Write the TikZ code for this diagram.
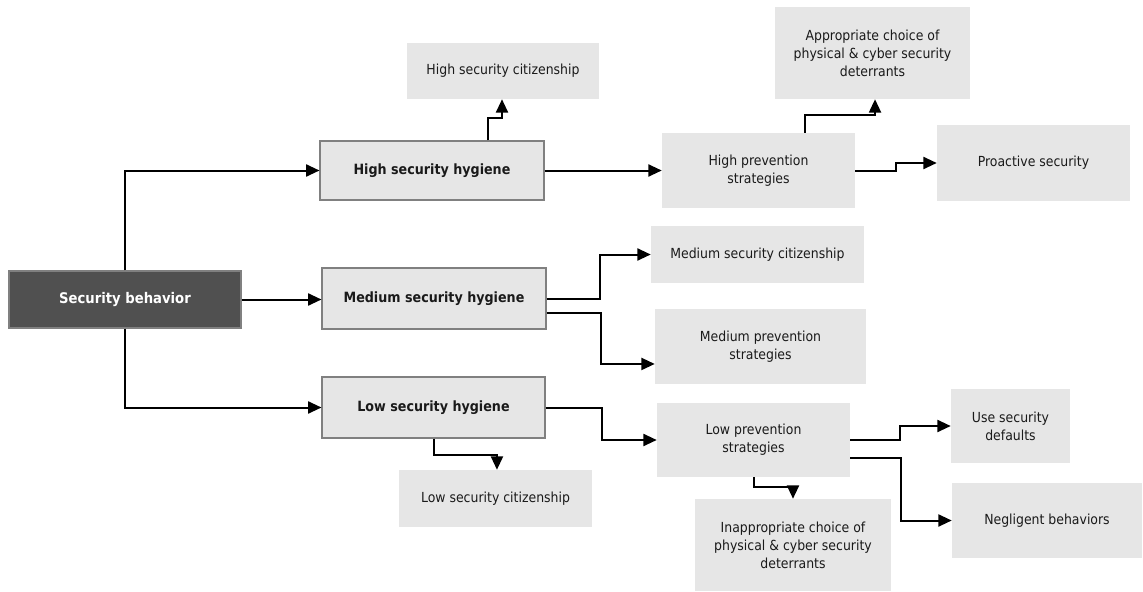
\documentclass[tikz,border=0pt]{standalone}
\usepackage{fontspec}
\setmainfont{DejaVu Sans Condensed}
\usetikzlibrary{arrows.meta}
\definecolor{boxfill}{HTML}{E6E6E6}
\definecolor{boxedge}{HTML}{808080}
\definecolor{rootfill}{HTML}{505050}
\definecolor{txt}{HTML}{1A1A1A}
\tikzset{
  base/.style={inner sep=2pt, align=center, text=txt,
    font=\fontsize{10.4}{13.5}\selectfont},
  leaf/.style={base, fill=boxfill, draw=none},
  hyg/.style={base, fill=boxfill, draw=boxedge, line width=0.8pt,
    font=\fontsize{10.6}{13.5}\selectfont\bfseries},
  root/.style={base, fill=rootfill, draw=boxedge, line width=0.8pt, text=white,
    font=\fontsize{11}{13.5}\selectfont\bfseries},
  arr/.style={line width=1.5pt, -{Triangle[length=10pt,width=9pt]}}
}
\begin{document}
\begin{tikzpicture}[x=0.75pt, y=-0.75pt]
\useasboundingbox (0,0) rectangle (1143,592);

% root
\node[root, minimum width=174pt, minimum height=42.75pt] (sb) at (125,299.5) {Security behavior};

% hygiene levels
\node[hyg, minimum width=168pt, minimum height=44.25pt] (hh) at (432,170.5) {High security hygiene};
\node[hyg, minimum width=168pt, minimum height=45.75pt] (mh) at (434,298.5) {Medium security hygiene};
\node[hyg, minimum width=167.25pt, minimum height=45.75pt] (lh) at (433.5,407.5) {Low security hygiene};

% outcomes
\node[leaf, minimum width=144pt, minimum height=42pt] (hc) at (503,71) {High security citizenship};
\node[leaf, minimum width=144.75pt, minimum height=56.25pt] (hp) at (758.5,170.5) {High prevention\\strategies};
\node[leaf, minimum width=146.25pt, minimum height=69pt] (ac) at (872.5,53) {Appropriate choice of\\physical \& cyber security\\deterrants};
\node[leaf, minimum width=144.75pt, minimum height=57pt] (ps) at (1033.5,163) {Proactive security};
\node[leaf, minimum width=159.75pt, minimum height=42.75pt] (mc) at (757.5,254.5) {Medium security citizenship};
\node[leaf, minimum width=158.25pt, minimum height=56.25pt] (mp) at (760.5,346.5) {Medium prevention\\strategies};
\node[leaf, minimum width=144.75pt, minimum height=55.5pt] (lp) at (753.5,440) {Low prevention\\strategies};
\node[leaf, minimum width=89.25pt, minimum height=55.5pt] (ud) at (1010.5,426) {Use security\\defaults};
\node[leaf, minimum width=142.5pt, minimum height=56.25pt] (nb) at (1047,520.5) {Negligent behaviors};
\node[leaf, minimum width=147pt, minimum height=69pt] (ia) at (793,545) {Inappropriate choice of\\physical \& cyber security\\deterrants};
\node[leaf, minimum width=144.75pt, minimum height=42.75pt] (lc) at (495.5,498.5) {Low security citizenship};

% root to hygiene levels
\draw[arr] (sb.north) |- (hh.west);
\draw[arr] (sb.east) -- (sb.east -| mh.west);
\draw[arr] (sb.south) |- (lh.west);

% high branch
\draw[arr] ([xshift=42pt]hh.north) -- ++(0,-22) -| ([xshift=-0.75pt]hc.south);
\draw[arr] (hh.east) -- (hp.west);
\draw[arr] ([xshift=34.9pt]hp.north) -- ++(0,-18) -| ([xshift=1.9pt]ac.south);
\draw[arr] (hp.east) -- ++(41,0) |- (ps.west);

% medium branch
\draw[arr] (mh.east) -- ++(53,0) |- (mc.west);
\draw[arr] ([yshift=-10.9pt]mh.east) -- ++(54,0) |- ([yshift=-13.1pt]mp.west);

% low branch
\draw[arr] (lh.east) -- ++(56,0) |- (lp.west);
\draw[arr] (lh.south) -- ++(0,16) -| ([xshift=1.1pt]lc.north);
\draw[arr] (lp.east) -- ++(50,0) |- (ud.west);
\draw[arr] ([yshift=-13.5pt]lp.east) -- ++(51,0) |- (nb.west);
\draw[arr] (lp.south) -- ++(0,10) -| (ia.north);
\end{tikzpicture}
\end{document}
